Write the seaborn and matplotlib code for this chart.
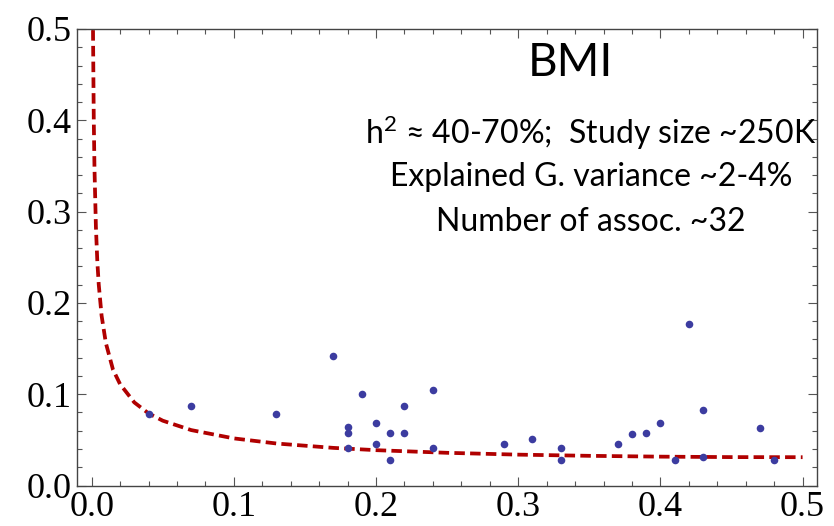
import matplotlib
matplotlib.use("Agg")
import matplotlib.pyplot as plt
import seaborn as sns
import pandas as pd
from matplotlib.ticker import MultipleLocator

# Associated loci: minor allele frequency vs. effect size
maf = [0.04, 0.07, 0.13, 0.17, 0.18, 0.18, 0.18, 0.19, 0.20, 0.20,
       0.21, 0.21, 0.22, 0.22, 0.24, 0.24, 0.29, 0.31, 0.33, 0.33,
       0.37, 0.38, 0.39, 0.40, 0.41, 0.42, 0.43, 0.43, 0.47, 0.48]
effect = [0.078, 0.087, 0.078, 0.142, 0.064, 0.058, 0.041, 0.100, 0.068, 0.046,
          0.058, 0.028, 0.087, 0.058, 0.105, 0.041, 0.046, 0.051, 0.041, 0.028,
          0.046, 0.056, 0.058, 0.068, 0.028, 0.177, 0.083, 0.031, 0.063, 0.028]

# Detection threshold curve
curve_maf = [0.0009, 0.001, 0.0015, 0.002, 0.003, 0.004, 0.005, 0.007, 0.01,
             0.015, 0.02, 0.03, 0.04, 0.05, 0.07, 0.1, 0.13, 0.17, 0.2, 0.25,
             0.3, 0.35, 0.4, 0.45, 0.5]
curve_effect = [0.516, 0.490, 0.400, 0.347, 0.283, 0.245, 0.220, 0.186, 0.156,
                0.127, 0.111, 0.091, 0.079, 0.071, 0.0607, 0.0516, 0.0460, 0.0412,
                0.0387, 0.0358, 0.0338, 0.0325, 0.0316, 0.0311, 0.0310]

title = "BMI"
info_lines = ["h$^{2}$ \u2248 40-70%;  Study size ~250K",
              "Explained G. variance ~2-4%",
              "Number of assoc. ~32"]

sns.set_style("ticks")
plt.rcParams["mathtext.fontset"] = "custom"
plt.rcParams["mathtext.rm"] = "Lato"
plt.rcParams["mathtext.it"] = "Lato"
plt.rcParams["mathtext.default"] = "regular"

W, H = 834, 526
fig = plt.figure(figsize=(W / 100, H / 100), dpi=100)
ax = fig.add_axes([77 / W, 1 - 485.5 / H, (816.5 - 77) / W, (485.5 - 29) / H])

points = pd.DataFrame({"maf": maf, "effect": effect})
sns.scatterplot(data=points, x="maf", y="effect", ax=ax, color="#3c3ca0",
                s=30, linewidth=0, zorder=3)
line_df = pd.DataFrame({"maf": curve_maf, "effect": curve_effect})
sns.lineplot(data=line_df, x="maf", y="effect", ax=ax, color="#b00000",
             linewidth=2.7, sort=False, zorder=2)
curve = ax.lines[-1]
curve.set_dashes((2.8, 1.4))
curve.set_dash_capstyle("butt")

ax.set_xlim(-0.0103, 0.5098)
ax.set_ylim(0, 0.5)
ax.set_xlabel("")
ax.set_ylabel("")

ax.xaxis.set_major_locator(MultipleLocator(0.1))
ax.xaxis.set_minor_locator(MultipleLocator(0.02))
ax.yaxis.set_major_locator(MultipleLocator(0.1))
ax.yaxis.set_minor_locator(MultipleLocator(0.02))
ax.xaxis.set_major_formatter(plt.FuncFormatter(lambda v, p: f"{v:.1f}"))
ax.yaxis.set_major_formatter(plt.FuncFormatter(lambda v, p: f"{v:.1f}"))

for s in ax.spines.values():
    s.set_visible(True)
    s.set_color("#444444")
    s.set_linewidth(1.0)

ax.tick_params(which="both", direction="in", top=True, right=True,
               color="#555555", width=0.8, labelcolor="black")
ax.tick_params(which="major", length=6.5)
ax.tick_params(which="minor", length=3.8)
ax.tick_params(axis="x", which="major", pad=4)
ax.tick_params(axis="y", which="major", pad=4)
for lab in ax.get_xticklabels() + ax.get_yticklabels():
    lab.set_fontfamily("Liberation Serif")
    lab.set_fontsize(26)

fig.text(570 / W, 1 - 63 / H, title, ha="center", va="center",
         fontsize=33, family="Lato", color="black")
for yy, txt in zip([133, 177, 222], info_lines):
    fig.text(591 / W, 1 - yy / H, txt, ha="center", va="center",
             fontsize=23, family="Lato", color="black")

fig.savefig("out.png", dpi=100)
